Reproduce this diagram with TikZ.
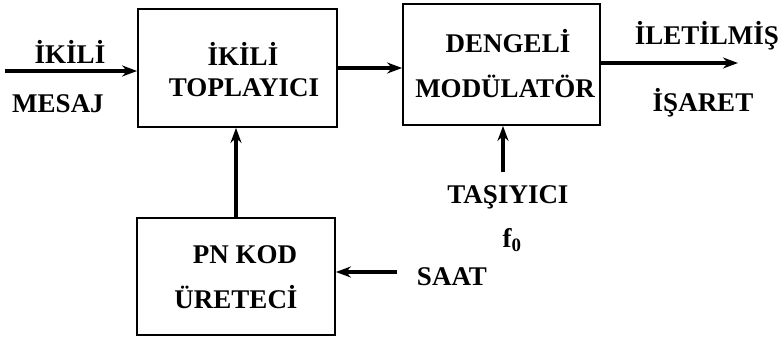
\documentclass[tikz,border=0pt]{standalone}
\usepackage{fontspec}
\setmainfont{Liberation Serif}
\usetikzlibrary{arrows.meta}
\begin{document}
\begin{tikzpicture}[x=1pt,y=-1pt,
  block/.style={draw,line width=1.8pt,rectangle,inner sep=0pt},
  lbl/.style={font=\fontsize{27}{31}\selectfont\bfseries,inner sep=0pt,align=center},
  sig/.style={line width=3.4pt,-{Stealth[length=15pt,width=11pt]}}]
\useasboundingbox (0,0) rectangle (781,337);
% blocks
\node[block,minimum width=199pt,minimum height=118pt] (add) at (237.5,68) {};
\node[block,minimum width=197pt,minimum height=121pt] (mod) at (501.5,64.5) {};
\node[block,minimum width=198pt,minimum height=117pt] (pn) at (236,276.5) {};
% block texts
\node[lbl] (addA) at (243,54) {İKİLİ};
\node[lbl] (addB) at (244,88) {TOPLAYICI};
\node[lbl] (modA) at (508,41) {DENGELİ};
\node[lbl] (modB) at (505,86) {MODÜLATÖR};
\node[lbl] (pnA) at (245,255) {PN KOD};
\node[lbl] (pnB) at (236,297) {ÜRETECİ};
% signal labels
\node[lbl] (inA) at (70,52) {İKİLİ};
\node[lbl] (inB) at (58,104) {MESAJ};
\node[lbl,anchor=east] (outA) at (779,36) {İLETİLMİŞ};
\node[lbl] (outB) at (703,103) {İŞARET};
\node[lbl] (car) at (508,197) {TAŞIYICI};
\node[lbl] (f0) at (512,240) {f\textsubscript{0}};
\node[lbl] (clk) at (452,277) {SAAT};
% free ends
\coordinate (in) at (5,71);
\coordinate (out) at (738,63);
\coordinate (carIn) at (503,172);
\coordinate (clkIn) at (397,272);
% connectors
\draw[sig] (in) -- (add.west |- in);
\draw[sig] (add.east) -- (mod.west |- add.east);
\draw[sig] (mod.east |- out) -- (out);
\draw[sig] (pn.north) -- (add.south -| pn.north);
\draw[sig] (carIn) -- (mod.south -| carIn);
\draw[sig] (clkIn) -- (pn.east |- clkIn);
\end{tikzpicture}
\end{document}
